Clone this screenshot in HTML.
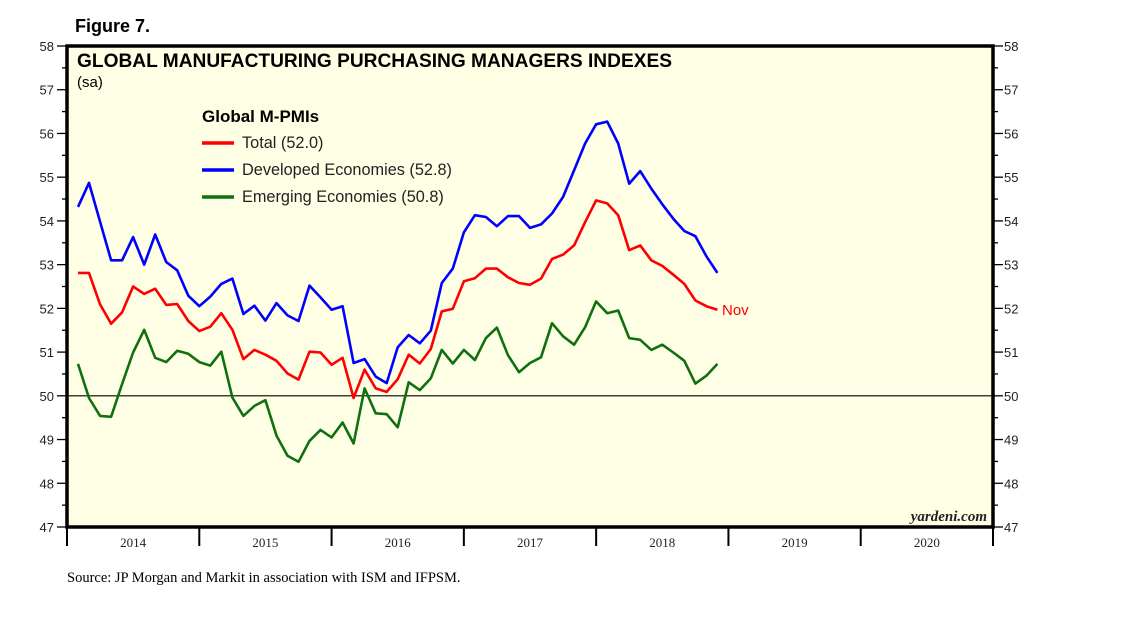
<!DOCTYPE html>
<html><head><meta charset="utf-8"><style>
body{margin:0;background:#fff;}
svg{display:block;font-family:"Liberation Sans",sans-serif;}
</style></head><body>
<svg width="1138" height="621" viewBox="0 0 1138 621">
<text x="75" y="32" font-size="18" font-weight="bold">Figure 7.</text>
<rect x="67" y="46" width="926" height="481" fill="#ffffe6"/>
<g id="yaxes"></g>
<g id="xaxis"></g>
<line id="ref50" stroke="#000" stroke-width="1.2"/>
<g id="series"></g>
<rect x="67" y="46" width="926" height="481" fill="none" stroke="#000" stroke-width="3.5"/>
<text x="77" y="67" font-size="19" font-weight="bold" textLength="595" lengthAdjust="spacingAndGlyphs">GLOBAL MANUFACTURING PURCHASING MANAGERS INDEXES</text>
<text x="77" y="87" font-size="15">(sa)</text>
<g>
<text x="202" y="122" font-size="17" font-weight="bold">Global M-PMIs</text>
<line x1="202" y1="143" x2="234" y2="143" stroke="#ff0000" stroke-width="3.5"/>
<text x="242" y="148" font-size="16.3" fill="#222">Total (52.0)</text>
<line x1="202" y1="170" x2="234" y2="170" stroke="#0000ff" stroke-width="3.5"/>
<text x="242" y="175" font-size="16.3" fill="#222">Developed Economies (52.8)</text>
<line x1="202" y1="197" x2="234" y2="197" stroke="#107010" stroke-width="3.5"/>
<text x="242" y="202" font-size="16.3" fill="#222">Emerging Economies (50.8)</text>
</g>
<text x="722" y="315" font-size="15" fill="#ff0000">Nov</text>
<text x="987" y="521" font-size="15" font-style="italic" font-weight="bold" font-family="Liberation Serif,serif" text-anchor="end" fill="#222">yardeni.com</text>
<text x="67" y="582" font-size="14.5" font-family="Liberation Serif,serif">Source: JP Morgan and Markit in association with ISM and IFPSM.</text>
</svg>
<script>
const years=["2014","2015","2016","2017","2018","2019","2020"];
const yTicks=[47,48,49,50,51,52,53,54,55,56,57,58];
const total=[52.81,52.81,52.09,51.65,51.91,52.50,52.33,52.45,52.08,52.10,51.71,51.48,51.58,51.89,51.51,50.84,51.05,50.94,50.80,50.51,50.37,51.01,50.99,50.71,50.87,49.95,50.60,50.17,50.09,50.38,50.94,50.74,51.07,51.93,51.99,52.62,52.69,52.91,52.91,52.71,52.58,52.54,52.68,53.13,53.23,53.44,53.97,54.47,54.40,54.13,53.33,53.44,53.10,52.97,52.77,52.56,52.18,52.05,51.97];
const developed=[54.32,54.87,53.98,53.10,53.10,53.63,53.00,53.69,53.06,52.87,52.29,52.05,52.27,52.56,52.68,51.87,52.06,51.72,52.12,51.84,51.71,52.52,52.25,51.97,52.05,50.75,50.84,50.44,50.29,51.11,51.39,51.20,51.49,52.58,52.91,53.74,54.13,54.09,53.88,54.11,54.11,53.84,53.92,54.17,54.55,55.16,55.77,56.21,56.27,55.77,54.85,55.14,54.74,54.38,54.05,53.77,53.65,53.19,52.81];
const emerging=[50.73,49.95,49.54,49.52,50.27,50.99,51.51,50.87,50.77,51.03,50.96,50.77,50.69,51.01,49.96,49.54,49.77,49.90,49.09,48.63,48.49,48.97,49.22,49.05,49.39,48.91,50.17,49.60,49.58,49.28,50.31,50.13,50.40,51.05,50.74,51.05,50.82,51.32,51.56,50.93,50.54,50.75,50.88,51.66,51.36,51.17,51.57,52.16,51.89,51.95,51.32,51.28,51.05,51.17,50.99,50.80,50.28,50.46,50.73];
const L=67,R=993,T=46,B=527,NS="http://www.w3.org/2000/svg";
const monthW=(R-L)/(years.length*12);
const xs=i=>L+(i+1)*monthW;
const ys=v=>B-(v-47)*(B-T)/11;
function mk(tag,attrs,parent){const e=document.createElementNS(NS,tag);for(const k in attrs)e.setAttribute(k,attrs[k]);parent.appendChild(e);return e;}
const ya=document.getElementById('yaxes');
yTicks.forEach(v=>{
 const y=ys(v);
 let t=mk('line',{x1:L-10,x2:L,y1:y,y2:y,stroke:'#000','stroke-width':1.3},ya);
 
 
 t=mk('line',{x1:R,x2:R+10,y1:y,y2:y,stroke:'#000','stroke-width':1.3},ya);
 
 
 let tx=mk('text',{x:L-13,y:y+5,'font-size':13,'text-anchor':'end',fill:'#222'},ya);
 tx.textContent=v;
 
 
 tx=mk('text',{x:R+11,y:y+5,'font-size':13,fill:'#222'},ya);
 tx.textContent=v;
 
 
 if(v<58){const ym=ys(v+0.5);
  let m=mk('line',{x1:L-5,x2:L,y1:ym,y2:ym,stroke:'#000','stroke-width':1.3},ya);
  
  
  m=mk('line',{x1:R,x2:R+5,y1:ym,y2:ym,stroke:'#000','stroke-width':1.3},ya);
  
  }
});
const xa=document.getElementById('xaxis');
for(let k=0;k<=years.length;k++){
 const x=L+k*12*monthW;
 const t=mk('line',{x1:x,x2:x,y1:B,y2:B+19,stroke:'#000','stroke-width':2},xa);
 
 
}
years.forEach((yr,k)=>{
 const tx=mk('text',{x:L+(k+0.5)*12*monthW,y:B+20,'font-size':13,'text-anchor':'middle','font-family':'Liberation Serif,serif',fill:'#222'},xa);
 tx.textContent=yr;
 
 
});
const r=document.getElementById('ref50');
r.setAttribute('x1',L);r.setAttribute('x2',R);r.setAttribute('y1',ys(50));r.setAttribute('y2',ys(50));
const sg=document.getElementById('series');
[[emerging,'#107010','line-emerging'],[developed,'#0000ff','line-developed'],[total,'#ff0000','line-total']].forEach(([d,c,n])=>{
 const p=mk('polyline',{points:d.map((v,i)=>xs(i).toFixed(1)+','+ys(v).toFixed(1)).join(' '),fill:'none',stroke:c,'stroke-width':2.6,'stroke-linejoin':'round'},sg);
 
 
});
</script>
</body></html>
